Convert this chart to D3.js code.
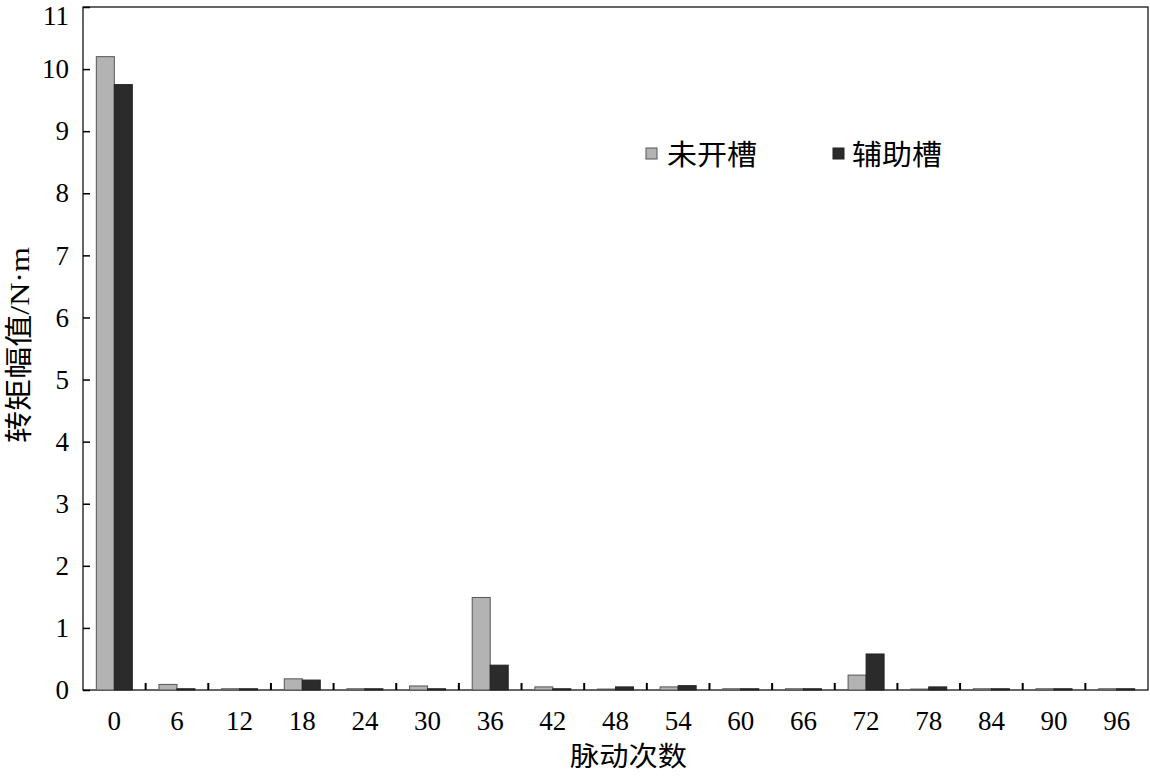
<!DOCTYPE html>
<html><head><meta charset="utf-8">
<script src="https://cdn.jsdelivr.net/npm/d3@7/dist/d3.min.js"></script>
<style>body{margin:0;background:#fff}svg{display:block}</style>
</head><body><svg id="c" width="1150" height="776"></svg>
<script>
const categories = ["0","6","12","18","24","30","36","42","48","54","60","66","72","78","84","90","96"];
const seriesNames = ["未开槽","辅助槽"];
const unslotted = [10.2,0.09,0.02,0.18,0.02,0.065,1.49,0.05,0.015,0.05,0.02,0.02,0.24,0.015,0.02,0.02,0.02];
const auxSlot   = [9.75,0.02,0.02,0.16,0.02,0.02,0.40,0.02,0.05,0.07,0.02,0.02,0.58,0.05,0.02,0.02,0.02];
const yTicks = [0,1,2,3,4,5,6,7,8,9,10,11];
const xTitle = "脉动次数";
const yTitle = "转矩幅值/N·m";

const svg = d3.select("#c");
const L=83,T=7,R=1148,B=690;
const x = d3.scaleBand().domain(categories).range([L,R]);
const sub = d3.scaleBand().domain(seriesNames).range([0,36]);
const y = d3.scaleLinear().domain([0,11]).range([B,T]);
const fills = ["#b3b3b3","#2b2b2b"];
const strokes = ["#555","#222"];
const numFont = "'Liberation Serif','Times New Roman',serif";
const mixFont = "'Liberation Serif','Noto Sans CJK SC',serif";

// frame
svg.append("rect").attr("x",L).attr("y",T).attr("width",R-L).attr("height",B-T)
  .attr("fill","none").attr("stroke","#000").attr("stroke-width",1.2);

// bars
const data = [unslotted, auxSlot];
data.forEach((vals,si)=>{
  svg.append("g").selectAll("rect").data(vals).join("rect")
    .attr("x",(d,i)=>x(categories[i]) + x.bandwidth()/2 - 18 + sub(seriesNames[si]))
    .attr("y",d=>y(d))
    .attr("width",sub.bandwidth())
    .attr("height",d=>B-y(d))
    .attr("fill",fills[si]).attr("stroke",strokes[si]).attr("stroke-width",1);
});

// y axis
const ya = d3.axisLeft(y).tickValues(yTicks).tickSize(-7).tickPadding(14).tickFormat(d3.format("d"));
const gy = svg.append("g").attr("transform",`translate(${L},0)`).call(ya);
gy.select(".domain").remove();
gy.selectAll("line").attr("stroke","#000").attr("stroke-width",1.5);
gy.selectAll("text").attr("font-family",numFont).attr("font-size",27).attr("fill","#000");
gy.selectAll(".tick").filter(d=>d===11).select("text").attr("dy","0.64em");

// x ticks (separators, inward)
const seps = d3.range(1,categories.length).map(i=>L + i*x.step());
svg.append("g").selectAll("line").data(seps).join("line")
  .attr("x1",d=>d).attr("x2",d=>d).attr("y1",B).attr("y2",B-7)
  .attr("stroke","#000").attr("stroke-width",2);
svg.append("g").selectAll("text").data(categories).join("text")
  .attr("x",d=>x(d)+x.bandwidth()/2).attr("y",730)
  .attr("text-anchor","middle").attr("font-family",numFont).attr("font-size",27).text(d=>d);

// titles
svg.append("text").attr("x",570).attr("y",766)
  .attr("font-family",mixFont).attr("font-size",27)
  .attr("textLength",117).attr("lengthAdjust","spacingAndGlyphs").text(xTitle);
svg.append("text").attr("transform","translate(29,443) rotate(-90)")
  .attr("font-family",mixFont).attr("font-size",28)
  .attr("textLength",196).attr("lengthAdjust","spacingAndGlyphs").text(yTitle);

// legend
const leg = [{x:646,tx:667},{x:833,tx:852}];
seriesNames.forEach((n,i)=>{
  svg.append("rect").attr("x",leg[i].x).attr("y",148).attr("width",11).attr("height",11)
    .attr("fill",fills[i]).attr("stroke",strokes[i]);
  svg.append("text").attr("x",leg[i].tx).attr("y",165).attr("font-family",mixFont)
    .attr("font-size",28).attr("textLength",90).attr("lengthAdjust","spacingAndGlyphs").text(n);
});
</script></body></html>
